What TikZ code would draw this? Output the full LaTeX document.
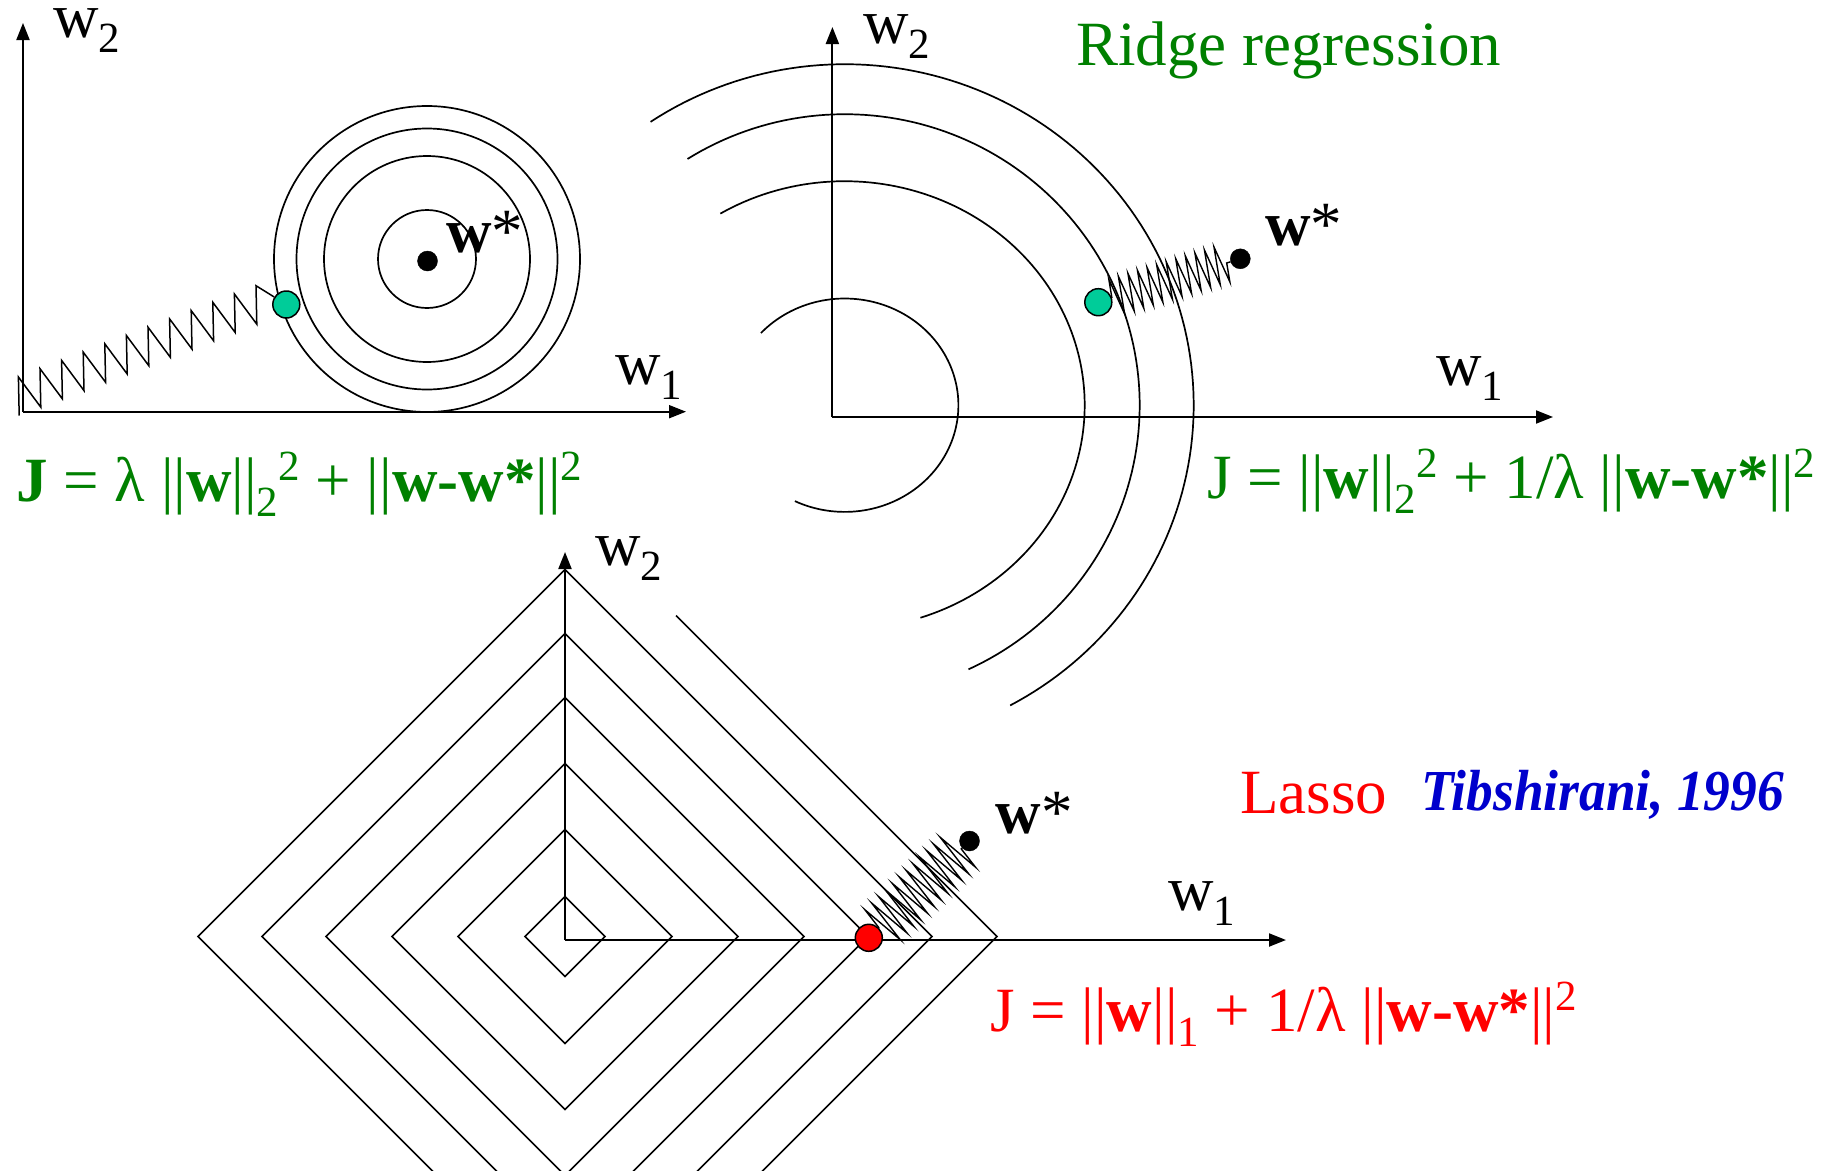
\documentclass[tikz,border=0pt]{standalone}
\usepackage{fontspec}
\usepackage{graphicx}
\setmainfont{Liberation Serif}
\usetikzlibrary{arrows.meta,decorations.pathmorphing}
\definecolor{rgreen}{HTML}{008000}
\definecolor{tealdot}{HTML}{00CC99}
\definecolor{lblue}{HTML}{0000CC}
\definecolor{lred}{HTML}{FF0000}
\newcommand{\lo}[1]{\raisebox{-15pt}{\fontsize{43}{43}\selectfont #1}}
\newcommand{\hi}[1]{\raisebox{21pt}{\fontsize{43}{43}\selectfont #1}}
\begin{document}
\begin{tikzpicture}[x=1pt,y=-1pt,
  curve/.style={line width=1.7pt},
  axis/.style={line width=2pt,-{Triangle[length=17pt,width=13pt]}},
  lbl/.style={anchor=base west,inner sep=0pt,font=\fontsize{63}{70}\selectfont},
  axlbl/.style={lbl,text height=30pt},
  dotb/.style={circle,fill=black,draw=black,inner sep=0pt,minimum size=20pt},
  dotc/.style={circle,draw=black,line width=1.5pt,inner sep=0pt,minimum size=27pt},
  springz/.style={line width=1.4pt,decorate,decoration={zigzag,segment length=10pt,amplitude=19pt}},
  springr/.style={line width=1.4pt,decorate,decoration={zigzag,segment length=9.5pt,amplitude=23pt}}
]
\useasboundingbox (0,0) rectangle (1841,1170);
\fill[white] (0,0) rectangle (1841,1170);

% ---------- top-left panel ----------
\coordinate (o1) at (23,411.7);
\coordinate (y1) at (23,23);
\coordinate (x1) at (686,411.7);
\draw[axis] (o1) -- (y1);
\draw[axis] (o1) -- (x1);
\foreach \r in {153,130.5,103,49} \draw[curve] (427,259) circle[radius=\r pt];
\node[axlbl] (w2a) at (53,37) {w\lo{2}};
\node[axlbl] (w1a) at (615,384) {w\lo{1}};
\node[dotc,fill=tealdot] (t1) at (286.3,304.5) {};
\node[dotb] (b1) at (427.5,261) {};
\node[lbl] (ws1) at (446,252) {\textbf{w}*};
\coordinate (s1) at (19.2,415.5);
\draw[line width=1.5pt] (s1) \foreach \i in {0,...,11}{ -- ({19.2+21.6*\i},{415.5-8.3*\i}) -- ({18.4+21.6*\i},{377-8.3*\i}) } -- (t1);
\node[lbl,text=rgreen] (J1) at (16,501) {\textbf{J} = λ ||\textbf{w}||\lo{2}\hi{2} + ||\textbf{w-w*}||\hi{2}};

% ---------- top-right panel ----------
\coordinate (o2) at (832.4,417);
\coordinate (y2) at (832.4,27);
\coordinate (x2) at (1553,417);
\draw[axis] (o2) -- (y2);
\draw[axis] (o2) -- (x2);
\draw[curve] plot[domain=-137.5:116,samples=120] ({844.7+113.7*cos(\x)},{405.2+106.7*sin(\x)});
\draw[curve] plot[domain=-121.2:71.6,samples=120] ({844.7+240*cos(\x)},{405.2+224*sin(\x)});
\draw[curve] plot[domain=-122.2:65.2,samples=120] ({844.7+295*cos(\x)},{405.2+291*sin(\x)});
\draw[curve] plot[domain=-123.8:61.7,samples=120] ({844.7+349*cos(\x)},{405.2+341*sin(\x)});
\node[axlbl] (w2b) at (863,43.6) {w\lo{2}};
\node[axlbl] (w1b) at (1436,385.6) {w\lo{1}};
\node[lbl,text=rgreen] (ridge) at (1076,65) {Ridge regression};
\node[dotc,fill=tealdot] (t2) at (1098.3,302.2) {};
\node[dotb] (b2) at (1240.3,258.8) {};
\node[lbl] (ws2) at (1265,245.6) {\textbf{w}*};
\draw[springz] (t2) -- (b2);
\node[lbl,text=rgreen] (J2) at (1207,498) {J = ||\textbf{w}||\lo{2}\hi{2} + 1/λ ||\textbf{w-w*}||\hi{2}};

% ---------- bottom panel ----------
\begin{scope}
\clip (0,0) rectangle (1841,1170);
\foreach \r in {40,107,173,239,303,367}
  \draw[curve,line join=miter] (565,{936.5-\r}) -- ({565+\r},936.5) -- (565,{936.5+\r}) -- ({565-\r},936.5) -- cycle;
\draw[curve,line join=miter] (676,{936.5-(432-111)}) -- (997,936.5) -- (565,1368.5);
\end{scope}
\coordinate (o3) at (565,940);
\coordinate (y3) at (565,552);
\coordinate (x3) at (1286,940);
\draw[axis] (o3) -- (y3);
\draw[axis] (o3) -- (x3);
\node[axlbl] (w2c) at (595,565.6) {w\lo{2}};
\node[axlbl] (w1c) at (1168,910) {w\lo{1}};
\node[dotc,fill=lred] (r3) at (868.8,937.8) {};
\node[dotb] (b3) at (969.5,841) {};
\draw[springr] (r3) -- (b3);
\node[lbl] (ws3) at (995.6,833.6) {\textbf{w}*};
\node[lbl,text=lred] (lasso) at (1240,813) {Lasso};
\node[lbl,text=lblue,font=\fontsize{58}{64}\selectfont\bfseries\itshape] (tib) at (1421,810) {\scalebox{0.92}[1]{Tibshirani, 1996}};
\node[lbl,text=lred] (J3) at (990,1031) {J = ||\textbf{w}||\lo{1} + 1/λ ||\textbf{w-w*}||\hi{2}};
\end{tikzpicture}
\end{document}
